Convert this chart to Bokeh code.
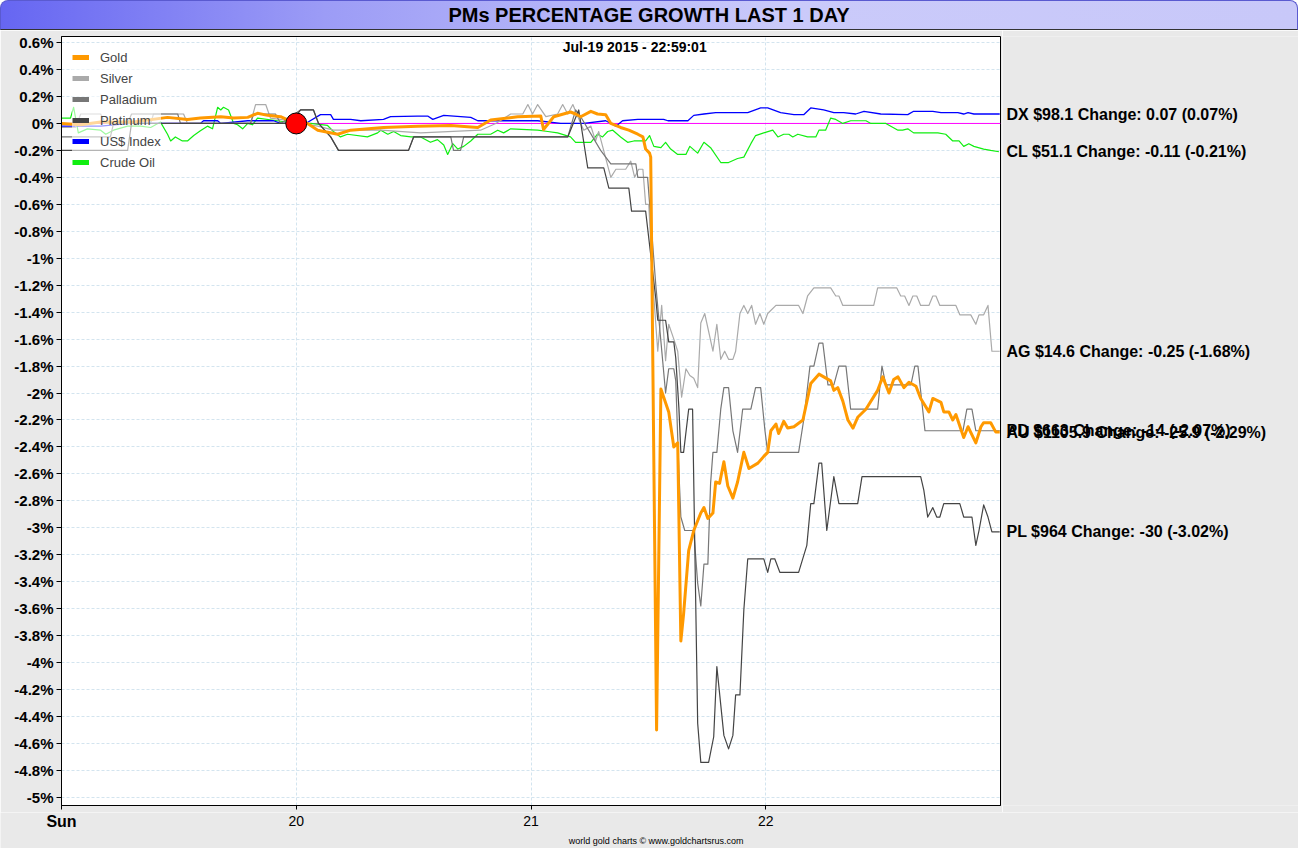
from bokeh.plotting import figure
from bokeh.models import (Range1d, FixedTicker, CustomJSTickFormatter, Span, Div)
from bokeh.layouts import column, row
from bokeh.core.properties import value
from bokeh.embed import file_html
from bokeh.resources import INLINE

# ---------------- data (minutes after Sun 19:00, % change) ----------------
title_text = "PMs PERCENTAGE GROWTH LAST 1 DAY"
stamp_text = "Jul-19  2015 - 22:59:01"
footer_text = "world gold charts \u00a9 www.goldchartsrus.com"

x_ticks = [0, 60, 120, 180]
x_tick_labels = ["Sun", "20", "21", "22"]
y_ticks = [round(-5.0 + 0.2 * i, 1) for i in range(29)]

ref_time = [60.0]
ref_value = [0.0]

gold_min = [0, 4.9, 10.0, 18.4, 27.1, 32.2, 35.5, 40.7, 44.0, 47.6, 50.1, 52.7, 56.0, 59.8,
            62.9, 65.5, 70.6, 73.9, 82.3, 91.0, 99.5, 106.4, 109.7, 116.6, 122.5, 123.2,
            125.8, 130.1, 131.4, 132.7, 135.3, 137.0, 139.1, 140.4, 142.9, 145.0, 147.3,
            148.6, 149.3, 150.3, 150.6, 152.1, 153.2, 155.2, 156.5, 157.5, 158.3, 159.0,
            160.3, 161.6, 163.4, 164.2, 165.2, 166.5, 167.2, 168.2, 169.3, 170.3, 171.6,
            172.8, 174.4, 175.7, 178.0, 179.5, 180.5, 181.3, 182.6, 183.3, 184.6, 185.6,
            187.2, 189.5, 191.5, 193.6, 196.6, 197.4, 198.4, 199.7, 201.0, 202.3, 203.5,
            205.6, 208.6, 209.9, 211.5, 212.7, 213.8, 215.3, 216.6, 218.4, 219.6, 221.7,
            222.7, 224.8, 225.5, 226.8, 227.8, 228.6, 230.6, 231.7, 233.7, 235.0, 235.7,
            237.5, 238.8, 239.8]
gold_pct = [0.0, -0.01, 0.01, 0.01, 0.045, 0.03, 0.04, 0.05, 0.04, 0.045, 0.075, 0.06, 0.05, 0.0,
            0.0, -0.05, -0.08, -0.05, -0.03, -0.02, -0.015, -0.03, 0.025, 0.05, 0.055, -0.045,
            0.05, 0.085, 0.07, 0.05, 0.09, 0.07, 0.065, 0.0, -0.03, -0.05, -0.08,
            -0.1, -0.19, -0.22, -0.25, -4.5, -1.97, -2.14, -2.40, -2.37, -3.84, -3.64,
            -3.17, -3.02, -2.89, -2.85, -2.93, -2.89, -2.66, -2.67, -2.51, -2.69, -2.78,
            -2.66, -2.44, -2.56, -2.52, -2.47, -2.44, -2.28, -2.23, -2.30, -2.21, -2.26,
            -2.25, -2.20, -1.93, -1.86, -1.91, -1.98, -1.96, -2.06, -2.20, -2.26, -2.18,
            -2.12, -1.98, -1.88, -2.0, -1.90, -1.88, -1.96, -1.92, -1.95, -2.04, -2.14,
            -2.04, -2.07, -2.14, -2.14, -2.20, -2.16, -2.33, -2.25, -2.37, -2.25, -2.22,
            -2.22, -2.29, -2.29]

silver_min = [0, 3.6, 4.9, 10.0, 11.3, 22.8, 23.5, 31.2, 32.2, 48.3, 49.6, 52.2, 53.4, 58.6,
              61.1, 65.5, 69.5, 81.6, 91.8, 107.1, 111.0, 114.8, 117.9, 119.2, 120.4, 121.7,
              123.8, 126.8, 128.1, 129.4, 130.7, 132.7, 133.5, 135.3, 136.5, 137.3, 140.4,
              141.7, 144.2, 145.5, 146.5, 147.5, 148.6, 149.3, 150.1, 151.1, 152.4, 153.4,
              154.4, 155.2, 156.5, 157.5, 158.5, 159.6, 160.6, 161.6, 162.6, 163.4, 164.4,
              166.5, 167.5, 168.5, 169.5, 170.5, 171.6, 172.3, 173.4, 174.4, 175.4, 176.4,
              177.4, 178.5, 179.5, 180.5, 182.6, 188.4, 189.5, 190.7, 192.3, 196.6, 197.9,
              198.7, 199.7, 207.6, 208.6, 213.5, 214.5, 215.5, 216.6, 217.6, 218.6, 219.6,
              221.7, 222.7, 223.5, 224.5, 228.6, 229.6, 232.4, 233.7, 234.5, 235.7, 236.8,
              237.8, 239.8]
silver_pct = [-0.03, -0.03, 0.07, 0.07, 0.0, 0.0, 0.07, 0.07, 0.0, 0.0, 0.14, 0.14, 0.04, 0.02,
              0.0, -0.02, -0.05, -0.05, -0.07, -0.05, 0.0, 0.07, 0.07, 0.14, 0.07, 0.14,
              0.05, 0.07, 0.14, 0.07, 0.14, 0.0, -0.05, -0.02, -0.13, -0.06, -0.4,
              -0.34, -0.34, -0.28, -0.4, -0.34, -0.34, -0.6, -0.6, -1.17, -1.69, -1.35,
              -1.76, -1.49, -1.6, -1.69, -2.03, -1.82, -1.87, -1.89, -1.96, -1.48, -1.41,
              -1.69, -1.49, -1.75, -1.69, -1.75, -1.75, -1.69, -1.41, -1.35, -1.41, -1.35,
              -1.49, -1.41, -1.49, -1.41, -1.35, -1.35, -1.41, -1.28, -1.22, -1.22, -1.28,
              -1.28, -1.35, -1.35, -1.22, -1.22, -1.28, -1.28, -1.35, -1.28, -1.28, -1.35,
              -1.35, -1.28, -1.28, -1.35, -1.35, -1.42, -1.42, -1.49, -1.42, -1.42, -1.35,
              -1.69, -1.69]

palladium_min = [0, 12.5, 13.3, 16.9, 17.9, 29.7, 30.4, 48.3, 49.1, 54.7, 56.0, 61.1, 64.4,
                 65.7, 68.8, 70.8, 88.7, 90.0, 99.5, 100.2, 102.0, 102.8, 129.4, 131.4, 132.7,
                 137.8, 140.4, 146.8, 147.3, 149.8, 151.9, 154.4, 155.2, 156.5, 157.0, 157.8,
                 158.3, 159.3, 161.6, 162.6, 163.4, 164.2, 165.2, 165.9, 166.5, 167.5, 168.5,
                 169.3, 170.5, 171.6, 172.8, 174.1, 176.2, 177.4, 178.7, 179.8, 180.5, 188.4,
                 189.7, 191.3, 192.3, 193.6, 194.6, 195.9, 197.4, 198.7, 200.5, 201.7, 208.6,
                 209.7, 210.7, 217.1, 218.1, 218.9, 220.7, 230.4, 231.4, 232.7, 233.7, 239.8]
palladium_pct = [-0.1, -0.1, 0.0, 0.0, 0.07, 0.07, 0.0, 0.0, 0.07, 0.07, 0.0, 0.1, 0.1,
                 0.0, -0.1, -0.2, -0.2, -0.1, -0.1, -0.2, -0.2, -0.1, -0.1, 0.1, 0.05,
                 -0.2, -0.3, -0.3, -0.4, -0.4, -1.2, -2.0, -1.82, -1.82, -1.91, -2.58,
                 -2.92, -3.02, -3.02, -3.41, -3.58, -3.27, -3.27, -2.67, -2.44, -2.44, -2.12,
                 -1.96, -1.96, -2.28, -2.44, -2.12, -2.12, -1.96, -1.96, -2.28, -2.44, -2.44,
                 -2.2, -1.8, -1.8, -1.63, -1.63, -1.94, -1.94, -1.8, -1.8, -2.12, -2.12,
                 -1.8, -1.94, -1.94, -1.8, -1.8, -2.28, -2.28, -2.12, -2.12, -2.28, -2.28]

platinum_min = [0, 16.9, 17.9, 58.6, 61.1, 64.4, 65.7, 68.8, 70.8, 88.7, 90.0, 129.4, 132.2,
                134.5, 138.6, 139.9, 145.0, 145.7, 149.3, 151.9, 152.4, 154.4, 155.2, 156.5,
                157.0, 157.8, 158.3, 159.0, 160.3, 161.3, 162.6, 163.4, 165.4, 166.7, 167.5,
                169.3, 170.5, 171.6, 172.3, 173.4, 174.4, 175.4, 179.5, 180.5, 181.3, 182.3,
                183.6, 188.4, 190.5, 191.5, 192.3, 193.6, 194.3, 195.6, 197.4, 198.7, 203.5,
                204.6, 219.6, 220.4, 221.4, 222.7, 223.7, 224.5, 225.5, 229.6, 230.6, 232.7,
                233.7, 234.5, 235.7, 236.8, 237.8, 239.8]
platinum_pct = [-0.2, -0.2, 0.0, 0.0, 0.1, 0.1, 0.0, -0.1, -0.2, -0.2, -0.1, -0.1, 0.1,
                -0.33, -0.33, -0.48, -0.48, -0.65, -0.65, -1.3, -1.46, -1.46, -1.62, -1.62,
                -1.74, -2.11, -2.44, -2.44, -2.12, -2.12, -4.45, -4.74, -4.74, -4.55, -4.03,
                -4.54, -4.64, -4.54, -4.24, -4.24, -3.61, -3.23, -3.23, -3.33, -3.23, -3.23,
                -3.33, -3.33, -3.13, -2.82, -2.82, -2.52, -2.52, -3.02, -2.62, -2.82, -2.82,
                -2.62, -2.62, -2.72, -2.92, -2.85, -2.92, -2.92, -2.82, -2.82, -2.92, -2.92,
                -3.13, -3.02, -2.83, -2.92, -3.03, -3.03]

usd_min = [0, 10.0, 17.6, 27.1, 35.5, 36.3, 39.9, 40.7, 47.6, 54.2, 56.0, 62.4, 66.2, 68.8,
           69.5, 73.9, 76.5, 82.3, 84.1, 91.0, 93.6, 94.9, 97.7, 104.6, 106.4, 113.0, 121.7,
           127.6, 133.5, 139.1, 141.7, 143.4, 147.3, 153.9, 155.0, 160.1, 161.6, 164.2,
           167.2, 175.4, 178.7, 180.5, 183.8, 187.2, 189.7, 191.5, 194.8, 197.4, 199.9,
           203.0, 205.1, 209.4, 216.3, 217.8, 222.7, 224.8, 229.1, 230.6, 231.7, 233.2, 239.8]
usd_pct = [-0.02, -0.02, 0.0, 0.0, 0.0, 0.02, 0.02, 0.0, 0.02, 0.02, 0.0, 0.0, 0.065, 0.065,
           0.03, 0.03, 0.02, 0.03, 0.05, 0.055, 0.055, 0.03, 0.06, 0.045, 0.02, 0.02, 0.02,
           0.0, 0.0, 0.02, -0.02, 0.02, 0.03, 0.03, 0.02, 0.02, 0.06, 0.07,
           0.08, 0.08, 0.115, 0.115, 0.08, 0.065, 0.065, 0.115, 0.1, 0.08, 0.08,
           0.07, 0.09, 0.07, 0.065, 0.09, 0.09, 0.08, 0.08, 0.07, 0.08, 0.07, 0.07]

crude_min = [0, 2.3, 3.1, 4.3, 6.6, 10.0, 11.3, 13.3, 16.9, 20.2, 22.8, 25.3, 27.1, 27.9, 29.1,
             30.9, 32.2, 33.8, 35.5, 37.3, 38.6, 39.9, 40.7, 41.4, 42.7, 44.0, 45.0, 46.3,
             47.6, 48.8, 50.1, 55.2, 59.8, 63.7, 68.0, 69.5, 71.3, 73.1, 78.2, 80.8, 81.6,
             83.4, 84.9, 86.7, 89.3, 91.8, 94.3, 96.1, 97.7, 98.7, 100.0, 101.3, 102.8,
             104.6, 106.4, 109.7, 111.5, 113.0, 114.8, 121.7, 124.3, 126.8, 130.1, 131.4,
             135.3, 137.0, 138.3, 139.6, 140.9, 142.9, 144.7, 146.3, 149.3, 150.3, 151.4,
             153.2, 154.4, 155.7, 157.5, 159.6, 160.6, 162.6, 164.2, 165.9, 168.5, 170.5,
             172.8, 174.4, 176.2, 177.4, 179.5, 181.8, 183.1, 184.6, 185.9, 186.9, 188.2,
             190.7, 192.8, 193.6, 195.3, 196.6, 197.9, 199.7, 201.7, 205.6, 206.9, 210.7,
             213.8, 215.0, 216.3, 217.8, 224.0, 226.0, 227.8, 229.4, 230.6, 231.9, 233.2,
             235.7, 237.5, 239.6]
crude_pct = [0.04, 0.04, 0.12, -0.07, -0.04, -0.05, -0.08, -0.05, -0.02, -0.02, -0.03, 0.01,
             -0.08, -0.13, -0.1, -0.13, -0.13, -0.09, -0.055, -0.02, -0.04, 0.12, 0.1, 0.12,
             0.1, 0.0, -0.01, -0.04, 0.0, -0.01, 0.04, 0.02, 0.0, 0.0, -0.015, -0.06, -0.1,
             -0.08, -0.1, -0.07, -0.05, -0.08, -0.06, -0.09, -0.1, -0.1, -0.14, -0.12, -0.16,
             -0.23, -0.15, -0.19, -0.17, -0.13, -0.08, -0.08, -0.05, -0.07, -0.04, -0.05,
             -0.06, -0.07, -0.1, -0.14, -0.14, -0.08, -0.1, -0.06, -0.05, -0.1, -0.14, -0.13,
             -0.13, -0.09, -0.17, -0.18, -0.14, -0.19, -0.23, -0.23, -0.17, -0.22, -0.14,
             -0.18, -0.29, -0.29, -0.26, -0.25, -0.15, -0.09, -0.07, -0.05, -0.1, -0.08,
             -0.08, -0.1, -0.08, -0.1, -0.1, -0.05, -0.05, 0.04, 0.03, 0.0, 0.02, 0.02, 0.0,
             0.0, -0.05, -0.05, -0.04, -0.07, -0.07, -0.08, -0.13, -0.13, -0.17, -0.15,
             -0.17, -0.19, -0.2, -0.21]

right_codes = ["usd", "crude", "silver", "palladium", "gold", "platinum"]
right_texts = ["DX $98.1  Change: 0.07 (0.07%)",
               "CL $51.1  Change: -0.11 (-0.21%)",
               "AG $14.6  Change: -0.25 (-1.68%)",
               "PD $663  Change: -14 (-2.07%)",
               "AU $1105.9  Change: -25.9 (-2.29%)",
               "PL $964  Change: -30 (-3.02%)"]

# ---------------- layout constants ----------------
FONT = "Liberation Sans"
PANEL = "#e9e9e9"
Y_MIN, Y_MAX = -5.06, 0.645
X_MIN, X_MAX = 0, 240
TOTAL_W = 1298
TITLE_H = 30
MAIN_W = 1002
FRAME_L = 61
FRAME_R = 1000
MAIN_H = 782
STRIP_H = 36
TOP_PAD = 6
BOT_PAD = 7

yr = Range1d(Y_MIN, Y_MAX)

# ---------------- main figure ----------------
p = figure(width=MAIN_W, height=MAIN_H, x_range=Range1d(X_MIN, X_MAX), y_range=yr,
           output_backend="svg", toolbar_location=None, tools="",
           min_border_left=FRAME_L, min_border_right=MAIN_W - FRAME_R,
           min_border_top=TOP_PAD, min_border_bottom=BOT_PAD)
p.background_fill_color = "white"
p.border_fill_color = PANEL
p.outline_line_color = "black"
p.outline_line_width = 1

for g in (p.xgrid, p.ygrid):
    g.grid_line_color = "#d3e4ef"
    g.grid_line_dash = "3 2"
    g.grid_line_width = 1
p.xgrid.ticker = FixedTicker(ticks=x_ticks)
p.ygrid.ticker = FixedTicker(ticks=y_ticks)

xa = p.xaxis[0]
xa.ticker = FixedTicker(ticks=x_ticks)
xa.major_label_overrides = {t: "" for t in x_ticks}
xa.major_label_text_font_size = "1px"
xa.major_label_standoff = 0
xa.major_tick_out = 4
xa.major_tick_in = 0
xa.minor_tick_line_color = None
xa.axis_line_color = "black"
xa.major_tick_line_color = "black"

ya = p.yaxis[0]
ya.ticker = FixedTicker(ticks=y_ticks)
ya.formatter = CustomJSTickFormatter(code="return (Math.round(tick*10)/10).toString() + '%';")
ya.major_label_text_font = FONT
ya.major_label_text_font_size = "15px"
ya.major_label_text_font_style = "bold"
ya.major_label_text_color = "black"
ya.major_tick_out = 5
ya.major_tick_in = 0
ya.minor_tick_line_color = None
ya.axis_line_color = "black"
ya.major_tick_line_color = "black"
ya.major_label_standoff = 3

p.add_layout(Span(location=0, dimension="width", line_color="#ff00ff", line_width=1, level="underlay"))

series = [
    ("crude", crude_min, crude_pct, "#11ee11", 1.2),
    ("usd", usd_min, usd_pct, "#0000ff", 1.3),
    ("silver", silver_min, silver_pct, "#aaaaaa", 1.2),
    ("palladium", palladium_min, palladium_pct, "#777777", 1.2),
    ("platinum", platinum_min, platinum_pct, "#444444", 1.2),
    ("gold", gold_min, gold_pct, "#ff9900", 3),
]
last_vals = {}
for code, xs, ys, col, w in series:
    p.line(xs, ys, line_color=col, line_width=w, line_join="round")
    last_vals[code] = ys[-1]

p.scatter(ref_time, ref_value, size=21, fill_color="#ff0000", line_color="black", line_width=1)

# legend swatches: thick, invisible (NaN) renderers
nan = float("nan")
legend_order = [("Gold", "#ff9900"), ("Silver", "#aaaaaa"), ("Palladium", "#777777"),
                ("Platinum", "#444444"), ("US$ Index", "#0000ff"), ("Crude Oil", "#11ee11")]
for name, col in legend_order:
    p.line([nan, nan], [nan, nan], line_color=col, line_width=5, legend_label=name)
lg = p.legend[0]
lg.location = "top_left"
lg.background_fill_color = "white"
lg.background_fill_alpha = 0.6
lg.border_line_color = None
lg.label_text_font = FONT
lg.label_text_font_size = "13px"
lg.glyph_width = 17
lg.glyph_height = 20
lg.label_height = 20
lg.spacing = 1
lg.padding = 5
lg.margin = 11
lg.label_standoff = 11

p.text(x=[147], y=[Y_MAX], text=[stamp_text], y_offset=10, text_align="center",
       text_baseline="middle", text_font=value(FONT), text_font_size="14px",
       text_font_style="bold", text_color="black")

# ---------------- right label panel (shares y range) ----------------
r = figure(width=TOTAL_W - MAIN_W, height=MAIN_H, x_range=Range1d(0, 1), y_range=yr,
           output_backend="svg", toolbar_location=None, tools="",
           min_border_left=0, min_border_right=0,
           min_border_top=TOP_PAD, min_border_bottom=BOT_PAD)
r.axis.visible = False
r.grid.visible = False
r.outline_line_color = None
r.background_fill_color = PANEL
r.border_fill_color = PANEL
r.text(x=[0] * len(right_codes), y=[last_vals[c] for c in right_codes], text=right_texts,
       x_offset=4, text_align="left", text_baseline="middle", text_font=value(FONT),
       text_font_size="16px", text_font_style="bold", text_color="black")

# ---------------- bottom strip: x tick labels + footer ----------------
mpp = (X_MAX - X_MIN) / (FRAME_R - FRAME_L)
s = figure(width=TOTAL_W, height=STRIP_H,
           x_range=Range1d(X_MIN - FRAME_L * mpp, X_MIN + (TOTAL_W - FRAME_L) * mpp),
           y_range=Range1d(0, STRIP_H), output_backend="svg", toolbar_location=None, tools="",
           min_border=0, min_border_left=0, min_border_right=0, min_border_top=0,
           min_border_bottom=0)
s.axis.visible = False
s.grid.visible = False
s.outline_line_color = None
s.background_fill_color = PANEL
s.border_fill_color = PANEL
s.text(x=[x_ticks[0]], y=[STRIP_H - 9], text=[x_tick_labels[0]], text_align="center",
       text_baseline="middle", text_font=value(FONT), text_font_size="16px",
       text_font_style="bold", text_color="black")
s.text(x=x_ticks[1:], y=[STRIP_H - 8] * 3, text=x_tick_labels[1:], text_align="center",
       text_baseline="middle", text_font=value(FONT), text_font_size="14px",
       text_color="black")
s.text(x=[152], y=[8], text=[footer_text], text_align="center", text_baseline="middle",
       text_font=value(FONT), text_font_size="9px", text_color="black")

title_html = (
    '<div style="width:%dpx;height:%dpx;box-sizing:border-box;'
    'background:linear-gradient(to right,#6666f2 0%%,#9c9cf6 25%%,#cacafa 60%%,#c8c8f9 100%%);'
    'border:1px solid #5a5ad0;border-bottom:1px solid #333;border-radius:8px 8px 0 0;'
    'text-align:center;font-family:\'Liberation Sans\',Arial,sans-serif;font-weight:bold;'
    'font-size:20px;line-height:28px;color:#000;">%s</div>' % (TOTAL_W, TITLE_H, title_text)
)
title_div = Div(text=title_html, width=TOTAL_W, height=TITLE_H, margin=(0, 0, 0, 0))

layout = column(title_div, row(p, r, spacing=0), s, spacing=0)
open("out.html", "w").write(file_html(layout, INLINE))
